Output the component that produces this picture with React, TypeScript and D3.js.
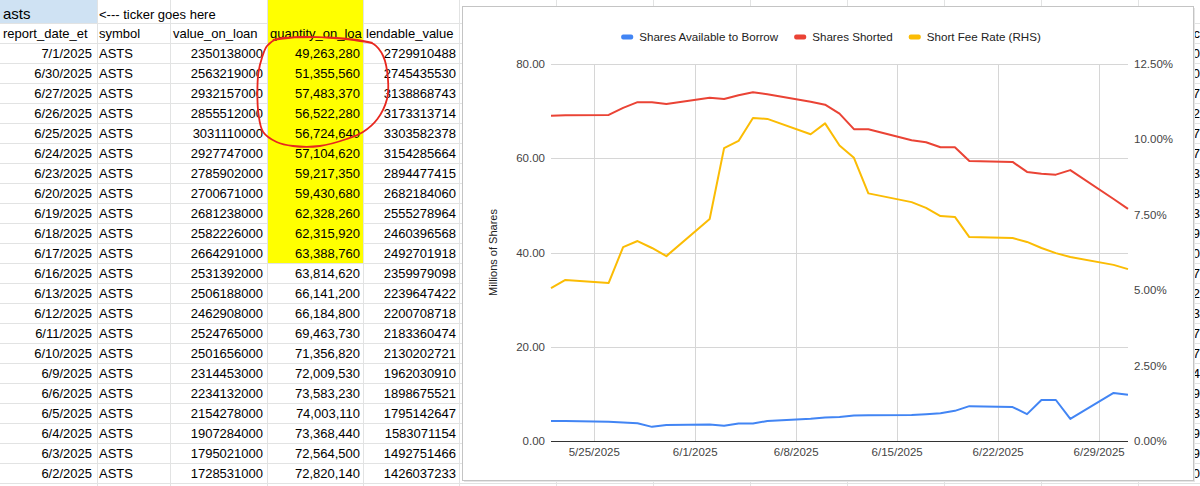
import { useEffect, useRef } from "react";
import * as d3 from "d3";

const tickerCell = "asts";
const tickerNote = "<--- ticker goes here";
const sheetHeaders = ["report_date_et", "symbol", "value_on_loan", "quantity_on_loan", "lendable_value"];
const reportDates = [
  "7/1/2025", "6/30/2025", "6/27/2025", "6/26/2025", "6/25/2025", "6/24/2025", "6/23/2025",
  "6/20/2025", "6/19/2025", "6/18/2025", "6/17/2025", "6/16/2025", "6/13/2025", "6/12/2025",
  "6/11/2025", "6/10/2025", "6/9/2025", "6/6/2025", "6/5/2025", "6/4/2025", "6/3/2025", "6/2/2025"
];
const symbol = "ASTS";
const valueOnLoan = [
  2350138000, 2563219000, 2932157000, 2855512000, 3031110000, 2927747000, 2785902000,
  2700671000, 2681238000, 2582226000, 2664291000, 2531392000, 2506188000, 2462908000,
  2524765000, 2501656000, 2314453000, 2234132000, 2154278000, 1907284000, 1795021000, 1728531000
];
const quantityOnLoan = [
  49263280, 51355560, 57483370, 56522280, 56724640, 57104620, 59217350,
  59430680, 62328260, 62315920, 63388760, 63814620, 66141200, 66184800,
  69463730, 71356820, 72009530, 73583230, 74003110, 73368440, 72564500, 72820140
];
const lendableValue = [
  2729910488, 2745435530, 3138868743, 3173313714, 3303582378, 3154285664, 2894477415,
  2682184060, 2555278964, 2460396568, 2492701918, 2359979098, 2239647422, 2200708718,
  2183360474, 2130202721, 1962030910, 1898675521, 1795142647, 1583071154, 1492751466, 1426037233
];
const highlightedRows = 11; // jaune jusqu'à 6/17
// bord de la colonne suivante, caché derrière le graphique
const hiddenColumnEdge = ["c", "0", "0", "7", "2", "7", "7", "3", "8", "3", "9", "0", "7", "2", "3", "7", "7", "4", "9", "3", "9", "9", "0"];

// ---- Graphique ----
const chartDates = [
  "2025-05-22", "2025-05-23", "2025-05-26", "2025-05-27", "2025-05-28", "2025-05-29", "2025-05-30",
  "2025-06-02", "2025-06-03", "2025-06-04", "2025-06-05", "2025-06-06",
  "2025-06-09", "2025-06-10", "2025-06-11", "2025-06-12", "2025-06-13",
  "2025-06-16", "2025-06-17", "2025-06-18", "2025-06-19", "2025-06-20",
  "2025-06-23", "2025-06-24", "2025-06-25", "2025-06-26", "2025-06-27",
  "2025-06-30", "2025-07-01"
];
const sharesAvailable = [
  4.24, 4.24, 4.1, 3.95, 3.75, 3.0, 3.4,
  3.5, 3.25, 3.7, 3.7, 4.25,
  4.7, 5.0, 5.1, 5.4, 5.45,
  5.5, 5.7, 5.9, 6.4, 7.4,
  7.2, 5.7, 8.7, 8.7, 4.7,
  10.2, 9.8
];
const sharesShorted = [
  69.0, 69.1, 69.2, 70.7, 71.9, 71.9, 71.5,
  72.82, 72.56, 73.37, 74.0, 73.58,
  72.01, 71.36, 69.46, 66.18, 66.14,
  63.81, 63.39, 62.32, 62.33, 59.43,
  59.22, 57.1, 56.72, 56.52, 57.48,
  51.36, 49.26
];
const shortFeeRate = [
  5.07, 5.34, 5.24, 6.43, 6.63, 6.4, 6.13,
  7.36, 9.71, 9.95, 10.71, 10.68,
  10.17, 10.53, 9.8, 9.39, 8.21,
  7.92, 7.73, 7.46, 7.43, 6.76,
  6.73, 6.6, 6.4, 6.23, 6.1,
  5.84, 5.7
];
const xTickDates = ["2025-05-25", "2025-06-01", "2025-06-08", "2025-06-15", "2025-06-22", "2025-06-29"];
const leftTicks = [0, 20, 40, 60, 80];
const rightTicks = [0, 2.5, 5, 7.5, 10, 12.5];
const seriesNames = ["Shares Available to Borrow", "Shares Shorted", "Short Fee Rate (RHS)"];
const seriesColors = ["#4285f4", "#ea4335", "#fbbc04"];
const yAxisTitle = "Millions of Shares";

const W = 1200;
const H = 486;
const FONT = "'Liberation Sans', Arial, sans-serif";

export default function App() {
  const svgRef = useRef<SVGSVGElement>(null);

  useEffect(() => {
    if (!svgRef.current) return;
    const svg = d3.select(svgRef.current);
    svg.selectAll("*").remove();

    svg.append("rect").attr("width", W).attr("height", H).attr("fill", "#fff");

    // ---------- Feuille de calcul ----------
    const colEdges = [0, 97, 170, 267, 363, 459, 556, 653, 750, 847, 944, 1041, 1138, 1235];
    const rowTop = (i: number) => (i === 0 ? 0 : i === 1 ? 23 : 43 + (i - 2) * 20);
    const nRows = reportDates.length + 2;
    const sheet = svg.append("g").style("font-family", FONT);

    // fond A1
    sheet.append("rect").attr("x", 0).attr("y", 0).attr("width", colEdges[1]).attr("height", 23).attr("fill", "#cfe2f3");

    // lignes horizontales
    for (let i = 1; i <= nRows; i++) {
      sheet.append("line")
        .attr("x1", 0).attr("x2", W)
        .attr("y1", rowTop(i) + 0.5).attr("y2", rowTop(i) + 0.5)
        .attr("stroke", "#e2e3e3");
    }
    // colonne surlignée
    sheet.append("rect")
      .attr("x", colEdges[3]).attr("y", 0)
      .attr("width", colEdges[4] - colEdges[3])
      .attr("height", rowTop(highlightedRows + 2))
      .attr("fill", "#ffff00");
    // lignes verticales
    colEdges.slice(1).forEach((x) => {
      sheet.append("line")
        .attr("x1", x + 0.5).attr("x2", x + 0.5)
        .attr("y1", 0).attr("y2", H)
        .attr("stroke", "#e2e3e3");
    });

    const baseline = (i: number) => rowTop(i + 1) - 5;
    sheet.append("text").attr("x", 3).attr("y", 19).attr("font-size", 15).text(tickerCell);
    sheet.append("text").attr("x", 99).attr("y", baseline(0) + 1).attr("font-size", 13).text(tickerNote);

    sheet.append("clipPath").attr("id", "hdrD")
      .append("rect").attr("x", colEdges[3]).attr("y", 0).attr("width", colEdges[4] - colEdges[3] - 1).attr("height", 60);
    const headerX = [3, 99, 173, 270, 366];
    sheetHeaders.forEach((h, j) => {
      sheet.append("text")
        .attr("x", headerX[j]).attr("y", baseline(1))
        .attr("font-size", 13)
        .attr("clip-path", j === 3 ? "url(#hdrD)" : null)
        .text(h);
    });

    const fmtComma = d3.format(",");
    reportDates.forEach((d, i) => {
      const y = baseline(i + 2);
      const cells: [string, number, string][] = [
        [d, colEdges[1] - 5, "end"],
        [symbol, 99, "start"],
        [String(valueOnLoan[i]), colEdges[3] - 4, "end"],
        [fmtComma(quantityOnLoan[i]), colEdges[4] - 3, "end"],
        [String(lendableValue[i]), colEdges[5] - 3, "end"]
      ];
      cells.forEach(([t, x, anchor]) => {
        sheet.append("text").attr("x", x).attr("y", y).attr("font-size", 13)
          .attr("text-anchor", anchor).attr("fill", "#000").text(t);
      });
    });

    hiddenColumnEdge.forEach((c, i) => {
      sheet.append("text").attr("x", 1200).attr("y", baseline(i + 1))
        .attr("font-size", 13).attr("text-anchor", "end").text(c);
    });

    // annotation à main levée (en coordonnées de cellules : colonne D, lignes)
    const dLeft = colEdges[3];
    const dW = colEdges[4] - colEdges[3];
    const loop: [number, number][] = [
      [0.06, 0.85], [0.34, 0.7], [0.69, 0.75], [0.97, 0.9], [1.11, 1.05], [1.21, 1.65],
      [1.26, 2.8], [1.25, 3.8], [1.15, 4.8], [1.0, 5.45], [0.83, 5.8], [0.55, 6.15],
      [0.27, 6.15], [0.1, 5.95], [-0.04, 5.45], [-0.09, 4.5], [-0.1, 3.5], [-0.09, 2.5],
      [-0.05, 1.7], [0.0, 1.15], [0.1, 0.8], [0.34, 0.72], [0.65, 0.72], [0.94, 0.85], [1.1, 1.0]
    ];
    sheet.append("path")
      .attr("d", d3.line<[number, number]>()
        .x((p) => dLeft + p[0] * dW)
        .y((p) => rowTop(2) + p[1] * 20 - 20)
        .curve(d3.curveCatmullRom)(loop))
      .attr("fill", "none").attr("stroke", "#e8271f").attr("stroke-width", 1.8);

    // ---------- Graphique ----------
    const box = { x: 462.5, y: 6.5, w: 731, h: 474 };
    svg.append("rect")
      .attr("x", box.x + 1.5).attr("y", box.y + 1.5).attr("width", box.w).attr("height", box.h)
      .attr("fill", "#e6e6e6");
    svg.append("rect")
      .attr("x", box.x).attr("y", box.y).attr("width", box.w).attr("height", box.h)
      .attr("fill", "#fff").attr("stroke", "#c4c4c4");

    const chart = svg.append("g").style("font-family", FONT);
    const plot = { left: 551, right: 1128, top: 64, bottom: 441 };
    const parse = d3.utcParse("%Y-%m-%d");
    const dates = chartDates.map((d) => parse(d) as Date);

    const x = d3.scaleUtc()
      .domain([dates[0], dates[dates.length - 1]])
      .range([plot.left, plot.right]);
    const yL = d3.scaleLinear().domain([0, 80]).range([plot.bottom, plot.top]);
    const yR = d3.scaleLinear().domain([0, 12.5]).range([plot.bottom, plot.top]);

    // grilles
    leftTicks.filter((t) => t > 0).forEach((t) => {
      chart.append("line")
        .attr("x1", plot.left).attr("x2", plot.right)
        .attr("y1", Math.round(yL(t)) + 0.5).attr("y2", Math.round(yL(t)) + 0.5)
        .attr("stroke", "#d6d6d6");
    });
    const tickDates = xTickDates.map((d) => parse(d) as Date);
    tickDates.forEach((d) => {
      chart.append("line")
        .attr("x1", Math.round(x(d)) + 0.5).attr("x2", Math.round(x(d)) + 0.5)
        .attr("y1", plot.top).attr("y2", plot.bottom)
        .attr("stroke", "#d6d6d6");
    });
    chart.append("line")
      .attr("x1", plot.left).attr("x2", plot.right)
      .attr("y1", plot.bottom + 0.5).attr("y2", plot.bottom + 0.5)
      .attr("stroke", "#333");

    // étiquettes d'axes
    const fmt2 = d3.format(".2f");
    leftTicks.forEach((t) => {
      chart.append("text").attr("x", 545).attr("y", yL(t) + 4)
        .attr("text-anchor", "end").attr("font-size", 11.5).attr("fill", "#444")
        .text(fmt2(t));
    });
    rightTicks.forEach((t) => {
      chart.append("text").attr("x", 1134).attr("y", yR(t) + 4)
        .attr("text-anchor", "start").attr("font-size", 11.5).attr("fill", "#444")
        .text(fmt2(t) + "%");
    });
    const fmtDate = d3.utcFormat("%-m/%-d/%Y");
    tickDates.forEach((d) => {
      chart.append("text").attr("x", x(d)).attr("y", 456)
        .attr("text-anchor", "middle").attr("font-size", 11.5).attr("fill", "#444")
        .text(fmtDate(d));
    });
    chart.append("text")
      .attr("transform", `translate(497,${(plot.top + plot.bottom) / 2}) rotate(-90)`)
      .attr("text-anchor", "middle").attr("font-size", 11).attr("fill", "#222")
      .text(yAxisTitle);

    // séries
    const series: { values: number[]; scale: d3.ScaleLinear<number, number> }[] = [
      { values: sharesAvailable, scale: yL },
      { values: sharesShorted, scale: yL },
      { values: shortFeeRate, scale: yR }
    ];
    series.forEach((s, k) => {
      const line = d3.line<number>()
        .x((_, i) => x(dates[i]))
        .y((v) => s.scale(v));
      chart.append("path")
        .attr("d", line(s.values))
        .attr("fill", "none")
        .attr("stroke", seriesColors[k])
        .attr("stroke-width", 2)
        .attr("stroke-linejoin", "round");
    });

    // légende
    const legend = chart.append("g");
    let cursor = 0;
    seriesNames.forEach((name, k) => {
      const item = legend.append("g").attr("transform", `translate(${cursor},0)`);
      item.append("rect").attr("x", 0).attr("y", -2.5).attr("width", 12).attr("height", 5)
        .attr("rx", 2).attr("fill", seriesColors[k]);
      const t = item.append("text").attr("x", 18).attr("y", 4)
        .attr("font-size", 11.6).attr("fill", "#222").text(name);
      const w = (t.node() as SVGTextElement).getComputedTextLength();
      cursor += 18 + w + 16;
    });
    const legendW = cursor - 16;
    legend.attr("transform", `translate(${831 - legendW / 2},37)`);
  }, []);

  return (
    <svg
      ref={svgRef}
      width={W}
      height={H}
      style={{ position: "absolute", left: 0, top: 0, display: "block" }}
    />
  );
}
